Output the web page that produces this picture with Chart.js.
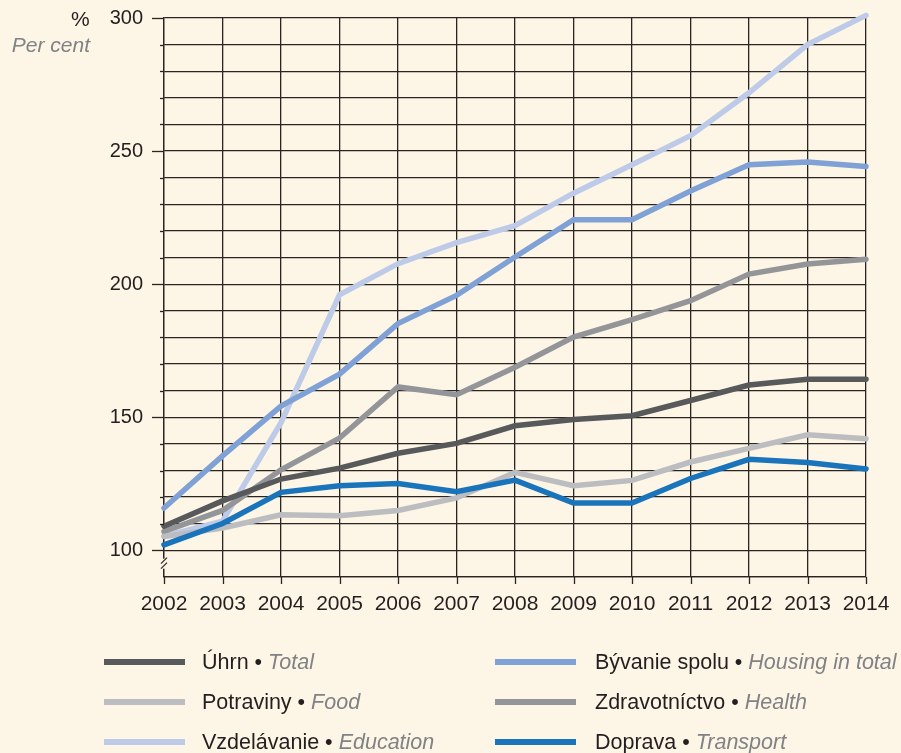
<!DOCTYPE html>
<html>
<head>
<meta charset="utf-8">
<script src="https://cdn.jsdelivr.net/npm/chart.js@4"></script>
<style>
  body{margin:0;background:#fdf5e5;font-family:"Liberation Sans",Arial,sans-serif;}
  #wrap{position:relative;width:901px;height:753px;}
  canvas{position:absolute;left:0;top:0;}
  .unit{position:absolute;font-size:21px;color:#231f20;}
  .unit.en{font-style:italic;color:#808285;}
  .leg{position:absolute;font-size:21.5px;color:#231f20;white-space:nowrap;line-height:22px;}
  .leg i{color:#808285;}
  .leg span.sw{position:absolute;width:81px;height:6px;top:8px;}
</style>
</head>
<body>
<div id="wrap">
  <canvas id="chart" width="901" height="753"></canvas>
  <div class="unit" style="left:71px;top:7px;">%</div>
  <div class="unit en" style="right:811px;top:33px;">Per cent</div>
  <div id="legend"></div>
</div>
<script>
// dáta – index, 2002–2014
const years = ['2002','2003','2004','2005','2006','2007','2008','2009','2010','2011','2012','2013','2014'];
const total     = [109.1,118.6,126.8,130.9,136.5,140.2,146.8,149.2,150.6,156.3,162.1,164.3,164.3];
const food      = [105.2,108.4,113.4,113.0,115.0,119.7,129.3,124.3,126.3,133.2,138.3,143.4,141.9];
const education = [105.3,111.0,148.0,196.0,207.7,215.6,222.0,234.2,244.9,255.8,271.9,290.0,301.0];
const housing   = [115.9,135.5,154.2,166.2,185.2,195.8,210.2,224.2,224.2,235.0,244.9,245.9,244.2];
const health    = [107.1,115.0,130.3,142.2,161.4,158.5,168.8,180.1,186.7,193.8,203.8,207.6,209.4];
const transport = [102.1,110.1,121.8,124.3,125.1,122.0,126.4,117.8,117.8,127.0,134.2,133.0,130.6];

const series = [
  {sk:'Úhrn', en:'Total', data:total, color:'#58595b', order:1},
  {sk:'Bývanie spolu', en:'Housing in total', data:housing, color:'#7fa1d6', order:5},
  {sk:'Potraviny', en:'Food', data:food, color:'#bcbdc0', order:3},
  {sk:'Zdravotníctvo', en:'Health', data:health, color:'#939598', order:4},
  {sk:'Vzdelávanie', en:'Education', data:education, color:'#bdcbe9', order:6},
  {sk:'Doprava', en:'Transport', data:transport, color:'#1a74bb', order:2}
];

// ----- LEGENDA -----
const legend = document.getElementById('legend');
series.forEach((s,i)=>{
  const col = i%2, row = Math.floor(i/2);
  const d = document.createElement('div');
  d.className = 'leg';
  d.style.left = (col ? 495 : 104)+'px';
  d.style.top = (651 + row*40)+'px';
  d.innerHTML = `<span class="sw" style="background:${s.color}"></span><span style="margin-left:${col?100:98}px">${s.sk} • <i>${s.en}</i></span>`;
  legend.appendChild(d);
});

// tick marks + axis break
const axisExtras = {
  id:'axisExtras',
  afterDraw(chart){
    const ctx = chart.ctx, y = chart.scales.y, x = chart.scales.x;
    const a = chart.chartArea;
    ctx.save();
    ctx.strokeStyle = '#2b2522';
    ctx.lineWidth = 1.3;
    for(let v=100; v<=300; v+=10){
      const py = Math.round(y.getPixelForValue(v))+0.5;
      const len = v%50===0 ? 12 : 4;
      ctx.beginPath(); ctx.moveTo(a.left-len, py); ctx.lineTo(a.left, py); ctx.stroke();
    }
    years.forEach((yr,i)=>{
      const px = Math.round(x.getPixelForValue(i))+0.5;
      ctx.beginPath(); ctx.moveTo(px, a.bottom); ctx.lineTo(px, a.bottom+7); ctx.stroke();
    });
    // zlom osi
    const by = y.getPixelForValue(95);
    ctx.fillStyle = '#fdf5e5';
    ctx.fillRect(a.left-4, by-5, 8, 10);
    ctx.lineWidth = 1.2;
    [-3,2].forEach(o=>{
      ctx.beginPath(); ctx.moveTo(a.left-3, by+o+3); ctx.lineTo(a.left+3, by+o-3); ctx.stroke();
    });
    ctx.restore();
  }
};

new Chart(document.getElementById('chart'),{
  type:'line',
  data:{
    labels:years,
    datasets:series.map(s=>({
      label:s.sk, data:s.data, borderColor:s.color, backgroundColor:s.color,
      borderWidth:5.5, pointRadius:0, tension:0, order:s.order, clip:false,
      borderCapStyle:'round'
    }))
  },
  options:{
    responsive:false, animation:false, devicePixelRatio:1,
    layout:{padding:{left:0,top:18,right:35,bottom:0}},
    plugins:{legend:{display:false}, tooltip:{enabled:false}},
    scales:{
      x:{
        afterFit:s=>{s.height=176; s.paddingLeft=0; s.paddingRight=0;},
        grid:{color:'#2b2522', lineWidth:1.3, drawTicks:false},
        border:{color:'#2b2522', width:1.3},
        ticks:{autoSkip:false, maxRotation:0, padding:15, color:'#231f20',
               font:{family:'"Liberation Sans", Arial, sans-serif', size:21}}
      },
      y:{
        min:90, max:300,
        afterFit:s=>{s.width=164; s.paddingTop=0; s.paddingBottom=0;},
        grid:{color:'#2b2522', lineWidth:1.3, drawTicks:false},
        border:{color:'#2b2522', width:1.3},
        ticks:{stepSize:10, autoSkip:false, maxTicksLimit:40, padding:21, color:'#231f20',
               font:{family:'"Liberation Sans", Arial, sans-serif', size:20},
               callback:v=>(v%50===0 && v>=100) ? v : ''}
      }
    }
  },
  plugins:[axisExtras]
});
</script>
</body>
</html>
